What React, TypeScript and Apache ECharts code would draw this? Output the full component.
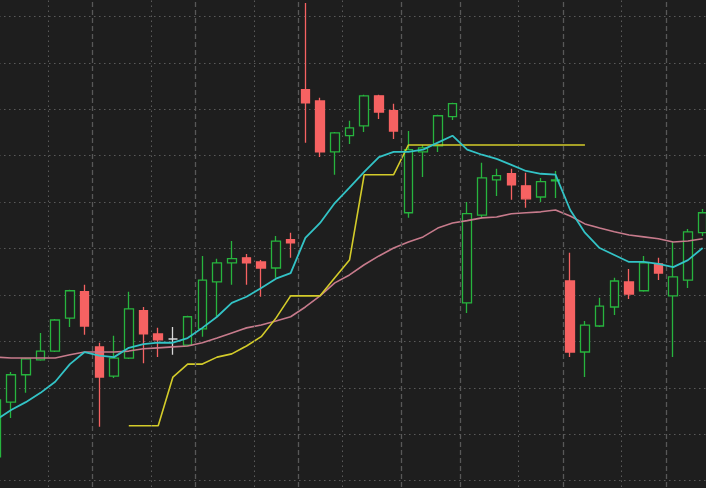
import React, { useEffect, useRef } from "react";
import * as echarts from "echarts";

const categories = [
  "1", "2", "3", "4", "5", "6", "7", "8", "9", "10",
  "11", "12", "13", "14", "15", "16", "17", "18", "19", "20",
  "21", "22", "23", "24", "25", "26", "27", "28", "29", "30",
  "31", "32", "33", "34", "35", "36", "37", "38", "39", "40",
  "41", "42", "43", "44", "45", "46", "47", "48", "49",
];

const opens = [
  41.51, 42.69, 43.28, 43.6, 43.79, 44.5, 45.07, 43.88, 43.25, 43.64,
  44.66, 44.16, 44.05, 43.92, 44.27, 45.28, 45.69, 45.8, 45.71, 45.58,
  46.19, 49.42, 49.18, 48.08, 48.43, 48.64, 49.29, 48.97, 46.77, 48.08,
  48.21, 48.84, 44.83, 46.72, 47.48, 47.61, 47.35, 47.11, 47.46, 45.3,
  43.77, 44.33, 44.74, 45.28, 45.09, 45.67, 44.98, 45.32, 46.34,
];
const closes = [
  42.74, 43.28, 43.62, 43.79, 44.46, 45.09, 44.33, 43.23, 43.64, 44.7,
  44.16, 44.03, 44.05, 44.53, 45.32, 45.69, 45.78, 45.69, 45.58, 46.16,
  46.12, 49.14, 48.08, 48.49, 48.6, 49.29, 48.94, 48.53, 48.13, 48.17,
  48.86, 49.12, 46.75, 47.52, 47.57, 47.37, 47.07, 47.44, 47.48, 43.77,
  44.35, 44.76, 45.3, 45.02, 45.69, 45.47, 45.39, 46.36, 46.77,
];
const lows = [
  41.34, 42.35, 42.89, 43.58, 43.77, 44.31, 44.14, 42.16, 43.21, 43.62,
  43.53, 43.66, 43.71, 43.9, 44.1, 44.53, 45.22, 45.22, 44.96, 45.37,
  45.8, 48.28, 47.97, 47.59, 48.25, 48.51, 48.79, 48.36, 46.66, 47.54,
  48.08, 48.77, 44.61, 46.66, 47.13, 47.05, 46.88, 47.0, 47.09, 43.66,
  43.23, 44.31, 44.57, 44.91, 45.07, 45.32, 43.66, 45.15, 46.27,
];
const highs = [
  42.78, 43.34, 43.64, 44.18, 44.48, 45.11, 45.22, 43.97, 44.12, 45.07,
  44.74, 44.29, 44.31, 44.55, 45.84, 45.78, 46.16, 45.88, 45.75, 46.27,
  46.34, 51.29, 49.25, 48.51, 48.75, 49.31, 49.31, 49.12, 48.53, 48.23,
  48.88, 49.14, 47.0, 47.85, 47.72, 47.72, 47.63, 47.52, 47.67, 45.91,
  44.44, 44.94, 45.37, 45.56, 45.84, 45.8, 46.14, 46.42, 46.85,
];

const fastMA = [
  42.31, 42.52, 42.69, 42.89, 43.13, 43.51, 43.77, 43.69, 43.66, 43.86,
  43.94, 43.97, 43.97, 44.07, 44.29, 44.53, 44.83, 44.96, 45.15, 45.35,
  45.47, 46.23, 46.55, 46.98, 47.31, 47.65, 47.97, 48.08, 48.08, 48.13,
  48.28, 48.43, 48.13, 48.02, 47.93, 47.8, 47.67, 47.61, 47.59, 46.83,
  46.34, 46.01, 45.86, 45.71, 45.71, 45.67, 45.6, 45.75, 46.01,
];
const slowMA = [
  43.66, 43.64, 43.64, 43.64, 43.64, 43.71, 43.77, 43.77, 43.77, 43.79,
  43.84, 43.86, 43.88, 43.9, 43.97, 44.07, 44.18, 44.29, 44.35, 44.44,
  44.53, 44.74, 44.98, 45.26, 45.43, 45.65, 45.84, 46.01, 46.14, 46.25,
  46.44, 46.55, 46.6, 46.66, 46.68, 46.75, 46.77, 46.79, 46.83, 46.7,
  46.53, 46.44, 46.36, 46.29, 46.25, 46.21, 46.14, 46.16, 46.21,
];
const stopLine = [
  null, null, null, null, null, null, null, null, null, 42.18,
  42.18, 42.18, 43.23, 43.51, 43.51, 43.66, 43.73, 43.9, 44.1, 44.5,
  44.98, 44.98, 44.98, 45.37, 45.75, 47.59, 47.59, 47.59, 48.23, 48.23,
  48.23, 48.23, 48.23, 48.23, 48.23, 48.23, 48.23, 48.23, 48.23, 48.23,
  48.23, null, null, null, null, null, null, null, null,
];

// session breaks: index of the category whose left edge carries a line
const dottedBreaks = [4, 11, 18, 24, 36, 43];
const dashedBreaks = [7, 14, 21, 28, 32, 39, 46];

const yMin = 40;
const yMax = 52;
const yStep = 1;

export default function App() {
  const ref = useRef<HTMLDivElement>(null);

  useEffect(() => {
    document.body.style.margin = "0";
    document.body.style.background = "#1e1e1e";
    if (!ref.current) return;
    const chart = echarts.init(ref.current, undefined, { renderer: "svg" });
    const ohlc = categories.map((_, i) => [opens[i], closes[i], lows[i], highs[i]]);
    const bg = "#1e1e1e";
    const hiddenAxisParts = {
      axisLine: { show: false },
      axisTick: { show: false },
      axisLabel: { show: false },
    };
    const breakLine = (v: number) => ({ xAxis: v });
    chart.setOption({
      animation: false,
      backgroundColor: bg,
      grid: { left: 0, right: 0, top: 0, bottom: 0, containLabel: false },
      xAxis: [
        {
          type: "category",
          data: categories,
          boundaryGap: true,
          ...hiddenAxisParts,
          splitLine: { show: false },
        },
        {
          type: "value",
          min: 0,
          max: categories.length,
          show: false,
          splitLine: { show: false },
        },
      ],
      yAxis: {
        type: "value",
        min: yMin,
        max: yMax,
        interval: yStep,
        ...hiddenAxisParts,
        splitLine: {
          show: true,
          lineStyle: { color: "#5a5a5a", width: 1, type: [1.5, 3.5] },
        },
      },
      series: [
        {
          type: "line",
          xAxisIndex: 1,
          data: [[0, yMin]],
          showSymbol: false,
          silent: true,
          z: 1,
          lineStyle: { opacity: 0 },
          markLine: {
            silent: true,
            symbol: "none",
            label: { show: false },
            animation: false,
            data: [
              ...dottedBreaks.map((v) => ({
                ...breakLine(v),
                lineStyle: { color: "#5a5a5a", width: 1, type: [1.5, 3.5] },
              })),
              ...dashedBreaks.map((v) => ({
                ...breakLine(v),
                lineStyle: { color: "#585858", width: 1.3, type: [5, 3] },
              })),
            ],
          },
        },
        {
          type: "candlestick",
          data: ohlc,
          barWidth: 9,
          itemStyle: {
            color: bg,
            color0: "#f66262",
            borderColor: "#27b43e",
            borderColor0: "#f66262",
            borderColorDoji: "#d8d8d8",
            borderWidth: 1.3,
          },
          z: 2,
        },
        {
          type: "line",
          data: slowMA,
          showSymbol: false,
          lineStyle: { color: "#c77b8c", width: 1.6 },
          z: 3,
        },
        {
          type: "line",
          data: stopLine,
          showSymbol: false,
          connectNulls: false,
          lineStyle: { color: "#d4cc2a", width: 1.6 },
          z: 4,
        },
        {
          type: "line",
          data: fastMA,
          showSymbol: false,
          lineStyle: { color: "#33c3c6", width: 1.8 },
          z: 5,
        },
      ],
    });
    return () => chart.dispose();
  }, []);

  return (
    <div
      ref={ref}
      style={{ position: "fixed", left: -11, top: -30, width: 721, height: 557 }}
    />
  );
}
